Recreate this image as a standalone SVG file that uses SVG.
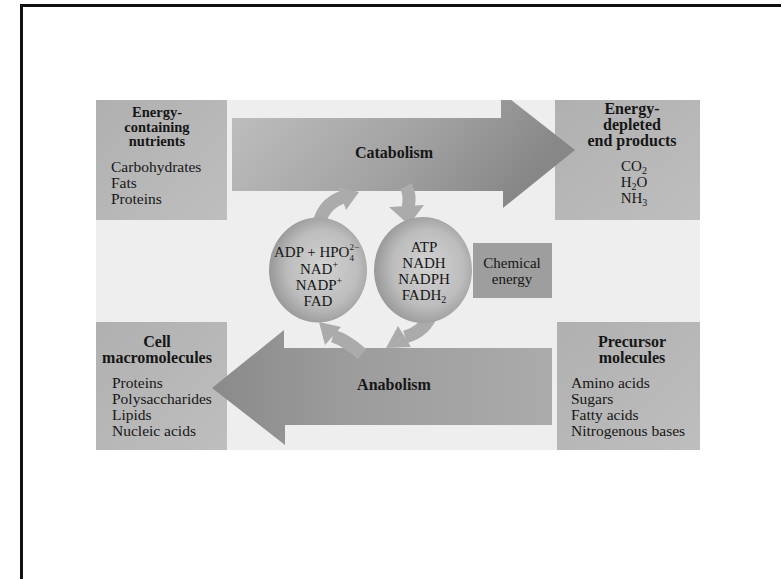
<svg xmlns="http://www.w3.org/2000/svg" width="781" height="579" viewBox="0 0 781 579">
<style>
text{font-family:"Liberation Serif","Times New Roman",serif;fill:#161616}
.h{font-weight:bold;font-size:16px;text-anchor:middle}
.hs{font-weight:bold;font-size:14.5px;text-anchor:middle}
.l{font-size:15.5px}
.c{font-size:15px;text-anchor:middle}
.s{font-size:10px}
.box{stroke:none}
.arc{fill:none;stroke:#ababab;stroke-width:13}
.ah{fill:#ababab}
</style>
<defs>
<linearGradient id="gCat" x1="0" y1="0" x2="1" y2="0.3">
<stop offset="0" stop-color="#c0c0c0"/><stop offset="0.6" stop-color="#a2a2a2"/><stop offset="1" stop-color="#878787"/>
</linearGradient>
<linearGradient id="gAna" x1="1" y1="0" x2="0" y2="0">
<stop offset="0" stop-color="#ababab"/><stop offset="0.6" stop-color="#9c9c9c"/><stop offset="1" stop-color="#8a8a8a"/>
</linearGradient>
<radialGradient id="gCirc" cx="0.55" cy="0.5" r="0.6" fx="0.55" fy="0.45">
<stop offset="0" stop-color="#d2d2d2"/><stop offset="0.6" stop-color="#bdbdbd"/><stop offset="1" stop-color="#8e8e8e"/>
</radialGradient>
<linearGradient id="gBox" x1="0" y1="0" x2="1" y2="1">
<stop offset="0" stop-color="#b0b0b0"/><stop offset="1" stop-color="#bebebe"/>
</linearGradient>
<clipPath id="photo"><rect x="96" y="100" width="604" height="350"/></clipPath>
</defs>

<rect id="frame" x="21.5" y="5.5" width="800" height="620" fill="#ffffff" stroke="#111111" stroke-width="3"/>
<rect id="photo-bg" x="96" y="100" width="604" height="350" fill="#eeeeee"/>

<g id="energy-containing-nutrients">
<rect class="box" x="96" y="100" width="131" height="120" fill="url(#gBox)"/>
<text class="hs" x="157" y="117">Energy-</text>
<text class="hs" x="157" y="131.5">containing</text>
<text class="hs" x="157" y="146">nutrients</text>
<text class="l" x="111" y="172">Carbohydrates</text>
<text class="l" x="111" y="188">Fats</text>
<text class="l" x="111" y="204">Proteins</text>
</g>

<g id="energy-depleted-end-products">
<rect class="box" x="555" y="100" width="145" height="120" fill="url(#gBox)"/>
<text class="h" x="632" y="114">Energy-</text>
<text class="h" x="632" y="130">depleted</text>
<text class="h" x="632" y="146">end products</text>
<text class="c" x="634" y="171">CO<tspan class="s" dy="2.5">2</tspan></text>
<text class="c" x="634" y="187">H<tspan class="s" dy="2.5">2</tspan><tspan dy="-2.5">O</tspan></text>
<text class="c" x="634" y="203">NH<tspan class="s" dy="2.5">3</tspan></text>
</g>

<g id="cell-macromolecules">
<rect class="box" x="96" y="322" width="131" height="128" fill="url(#gBox)"/>
<text class="h" x="157" y="347">Cell</text>
<text class="h" x="157" y="363">macromolecules</text>
<text class="l" x="112" y="388">Proteins</text>
<text class="l" x="112" y="404">Polysaccharides</text>
<text class="l" x="112" y="420">Lipids</text>
<text class="l" x="112" y="436">Nucleic acids</text>
</g>

<g id="precursor-molecules">
<rect class="box" x="557" y="322" width="143" height="128" fill="url(#gBox)"/>
<text class="h" x="632" y="347">Precursor</text>
<text class="h" x="632" y="363">molecules</text>
<text class="l" x="571" y="388">Amino acids</text>
<text class="l" x="571" y="404">Sugars</text>
<text class="l" x="571" y="420">Fatty acids</text>
<text class="l" x="571" y="436">Nitrogenous bases</text>
</g>

<g id="connectors">
<g id="catabolism" clip-path="url(#photo)">
<polygon points="232,118 501,118 501,92 575,150 503,208 503,191 232,191" fill="url(#gCat)"/>
<text class="h" x="394" y="158">Catabolism</text>
</g>
<g id="anabolism">
<polygon points="552,348 284,348 284,330 212,388 285,445 285,425 552,425" fill="url(#gAna)"/>
<text class="h" x="394" y="390">Anabolism</text>
</g>
<g id="cycle-arrows">
<path class="arc" d="M318,228 Q322,204 343,197"/>
<polygon class="ah" points="338,187 346,210 359,192"/>
<path class="arc" d="M406,186 Q411,196 408,208"/>
<polygon class="ah" points="389,207 424,205 409,225"/>
<path class="arc" d="M432,312 Q426,331 405,337"/>
<polygon class="ah" points="398,326 411,347 386,348"/>
<path class="arc" d="M362,354 Q346,340 333,336"/>
<polygon class="ah" points="341,327 325,345 319,322"/>
</g>
</g>

<g id="oxidized-carriers">
<ellipse cx="318" cy="270" rx="49" ry="52.5" fill="url(#gCirc)"/>
<text x="274" y="257" font-size="15">ADP + HPO<tspan font-size="9" dy="-7">2−</tspan><tspan font-size="9" dx="-9.6" dy="11">4</tspan></text>
<text class="c" x="319" y="274">NAD<tspan class="s" dy="-6">+</tspan></text>
<text class="c" x="319" y="290">NADP<tspan class="s" dy="-6">+</tspan></text>
<text class="c" x="318" y="306">FAD</text>
</g>

<g id="reduced-carriers">
<ellipse cx="423" cy="270" rx="49" ry="53" fill="url(#gCirc)"/>
<text class="c" x="424" y="252">ATP</text>
<text class="c" x="424" y="268">NADH</text>
<text class="c" x="424" y="284">NADPH</text>
<text class="c" x="424" y="300">FADH<tspan class="s" dy="2.5">2</tspan></text>
</g>

<g id="chemical-energy">
<rect class="box" x="473" y="243" width="79" height="55" fill="#9e9e9e"/>
<text class="c" x="512" y="268">Chemical</text>
<text class="c" x="512" y="284">energy</text>
</g>
</svg>
